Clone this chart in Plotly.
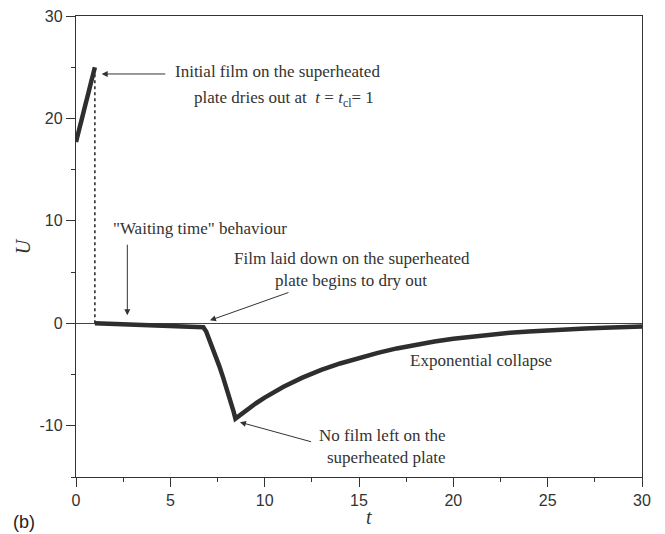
import plotly.graph_objects as go

# ---- data ----
t_initial = [0.0, 0.25, 0.5, 0.75, 1.0]
u_initial = [17.7, 19.5, 21.3, 23.1, 25.0]

t_dryout = [1.0, 1.0]
u_dryout = [0.0, 25.0]

t_main = [1, 2, 3, 4, 5, 6, 6.6, 6.75, 6.9, 7.05, 7.2, 7.4, 7.6, 7.8, 8.0, 8.2, 8.35, 8.45,
          8.75, 9, 9.5, 10, 11, 12, 13, 14, 15, 16, 17, 18, 19, 20,
          21, 22, 23, 24, 25, 26, 27, 28, 29, 30]
u_main = [0.0, -0.05, -0.1, -0.15, -0.22, -0.28, -0.32, -0.38, -0.8, -1.5, -2.2, -3.2, -4.2, -5.3, -6.4, -7.6, -8.6, -9.3,
          -8.85, -8.5, -7.85, -7.25, -6.2, -5.3, -4.55, -3.92, -3.38, -2.88, -2.45, -2.08, -1.77, -1.5,
          -1.28, -1.09, -0.93, -0.8, -0.68, -0.58, -0.5, -0.43, -0.36, -0.3]

x_ticks = [0, 5, 10, 15, 20, 25, 30]
y_ticks = [-10, 0, 10, 20, 30]

LINE = "#2e2e2e"
AX = "#333333"
SERIF = "Liberation Serif"
SANS = "Liberation Sans"

fig = go.Figure()
fig.add_trace(go.Scatter(x=t_dryout, y=u_dryout, mode="lines",
                         line=dict(color="#222222", width=1.5, dash="dot"), hoverinfo="skip"))
fig.add_trace(go.Scatter(x=t_initial, y=u_initial, mode="lines",
                         line=dict(color=LINE, width=4.5)))
fig.add_trace(go.Scatter(x=t_main, y=u_main, mode="lines",
                         line=dict(color=LINE, width=4.5)))

tf = dict(family=SERIF, size=17, color="#333333")

texts = [
    (5.14, 24.54, "Initial film on the superheated"),
    (6.15, 21.9, "plate dries out at  <i>t</i> = <i>t</i><sub>cl</sub>= 1"),
    (1.85, 9.29, "\"Waiting time\" behaviour"),
    (8.25, 6.35, "Film laid down on the superheated"),
    (10.44, 4.2, "plate begins to dry out"),
    (12.77, -10.95, "No film left on the"),
    (13.2, -13.1, "superheated plate"),
    (17.6, -3.62, "Exponential collapse"),
]
annotations = []
for x, y, s in texts:
    annotations.append(dict(x=x, y=y, xref="x", yref="y", text=s, showarrow=False,
                            xanchor="left", yanchor="middle", font=tf))

arrows = [
    (1.36, 24.34, 4.81, 24.34),
    (2.72, 0.78, 2.72, 7.82),
    (7.10, 0.29, 11.34, 3.06),
    (8.69, -9.65, 12.54, -11.6),
]
for x, y, ax, ay in arrows:
    annotations.append(dict(x=x, y=y, ax=ax, ay=ay, xref="x", yref="y", axref="x", ayref="y",
                            text="", showarrow=True, arrowhead=2, arrowsize=1.2, arrowwidth=1,
                            arrowcolor="#333333", standoff=0))

annotations.append(dict(x=-0.092, y=-0.098, xref="paper", yref="paper", text="(b)", showarrow=False,
                        xanchor="center", yanchor="middle",
                        font=dict(family=SANS, size=18, color="#222222")))
annotations.append(dict(x=0.518, y=-0.087, xref="paper", yref="paper", text="<i>t</i>", showarrow=False,
                        xanchor="center", yanchor="middle",
                        font=dict(family=SERIF, size=20, color="#333333")))
annotations.append(dict(x=-0.094, y=0.50, xref="paper", yref="paper", text="<i>U</i>", showarrow=False,
                        xanchor="center", yanchor="middle", textangle=-90,
                        font=dict(family=SERIF, size=20, color="#333333")))

fig.update_layout(
    width=657, height=526,
    margin=dict(l=68, r=23, t=8, b=57, autoexpand=False),
    paper_bgcolor="white", plot_bgcolor="white",
    showlegend=False,
    annotations=annotations,
    xaxis=dict(range=[0, 30], tickvals=x_ticks, ticktext=[str(v) for v in x_ticks],
               showgrid=False, zeroline=False, showline=True, mirror=True, automargin=False,
               linecolor=AX, linewidth=1.3, ticks="outside", ticklen=9, tickwidth=1.3, tickcolor=AX,
               minor=dict(dtick=2.5, tick0=0, ticks="outside", ticklen=4, tickwidth=1.2, tickcolor=AX, showgrid=False),
               tickfont=dict(family=SANS, size=16, color="#333333"), ticklabeloverflow="allow"),
    yaxis=dict(range=[-15, 30], tickvals=y_ticks, ticktext=[str(v) for v in y_ticks],
               showgrid=False, zeroline=True, zerolinecolor="#444444", zerolinewidth=1,
               showline=True, mirror=True, automargin=False,
               linecolor=AX, linewidth=1.3, ticks="outside", ticklen=9, tickwidth=1.3, tickcolor=AX,
               minor=dict(dtick=5, tick0=0, ticks="outside", ticklen=4, tickwidth=1.2, tickcolor=AX, showgrid=False),
               tickfont=dict(family=SANS, size=16, color="#333333"), ticklabeloverflow="allow"),
)

fig.write_html("out.html")
